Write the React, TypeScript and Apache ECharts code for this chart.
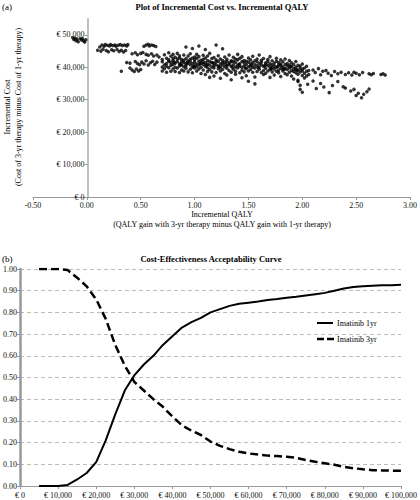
import React, { useEffect, useRef } from "react";
import * as echarts from "echarts";

const FONT = "'Liberation Serif', 'Times New Roman', serif";

// ---------- Panel (a): incremental cost vs incremental QALY ----------
const costTicks = [0, 10000, 20000, 30000, 40000, 50000];

const pointsNegative: [number, number][] = [
  [-0.13, 49100], [-0.12, 48600], [-0.11, 49000], [-0.1, 48200], [-0.09, 48700], [-0.08, 47900],
  [-0.06, 48900], [-0.05, 48400], [-0.04, 48800], [-0.03, 48100], [-0.02, 47800], [-0.01, 48500],
];

const pointsEarly: [number, number][] = [
  [0.12, 46300], [0.14, 46900], [0.16, 46500], [0.17, 47000], [0.19, 46800], [0.21, 46600], [0.22, 47000],
  [0.24, 46700], [0.26, 46900], [0.27, 46500], [0.29, 46800], [0.31, 47000], [0.33, 46700], [0.35, 46900],
  [0.37, 46600], [0.38, 47000],
  [0.1, 45300], [0.13, 45000], [0.15, 45600], [0.18, 45200], [0.2, 44800], [0.23, 45400], [0.25, 45100],
  [0.28, 45500], [0.3, 44900], [0.32, 45300], [0.34, 44700], [0.36, 45200],
  [0.53, 46500], [0.55, 46900], [0.57, 47100], [0.58, 46600], [0.6, 46900], [0.62, 46700], [0.64, 46400],
  [0.42, 44200], [0.45, 44500], [0.47, 43900], [0.5, 44300], [0.52, 44600], [0.55, 44000], [0.57, 43700],
  [0.6, 44200], [0.62, 43500], [0.65, 43800], [0.67, 43200],
  [0.37, 41500], [0.4, 41300], [0.45, 41800], [0.47, 41200], [0.49, 40800], [0.51, 41600], [0.53, 41000],
  [0.55, 42000], [0.57, 40700], [0.59, 41400], [0.61, 41900], [0.63, 40900], [0.65, 41600],
  [0.32, 38800], [0.4, 39800], [0.42, 39200], [0.44, 38700], [0.46, 39500], [0.48, 38900], [0.5, 39300],
];

const pointsBand: [number, number][] = [
  [0.7, 42400], [0.7, 40100], [0.7, 38900], [0.7, 41700], [0.72, 43900], [0.72, 40800], [0.72, 39600],
  [0.74, 41200], [0.74, 42800], [0.74, 38500], [0.74, 40300], [0.76, 44500], [0.76, 41900], [0.76, 39900],
  [0.76, 42300], [0.78, 40600], [0.78, 43400], [0.78, 38800], [0.78, 41500], [0.8, 42100], [0.8, 39500],
  [0.8, 44000], [0.8, 40900], [0.8, 42700], [0.82, 41300], [0.82, 38700], [0.82, 43100], [0.82, 40000],
  [0.84, 42600], [0.84, 39800], [0.84, 41800], [0.84, 44300], [0.86, 40400], [0.86, 42900], [0.86, 38400],
  [0.86, 41100], [0.86, 43600], [0.88, 41700], [0.88, 39200], [0.88, 42400], [0.88, 40700], [0.9, 43800],
  [0.9, 40200], [0.9, 41500], [0.9, 38900], [0.9, 42200], [0.92, 46300], [0.92, 41000], [0.92, 42700],
  [0.92, 39700], [0.92, 40500], [0.94, 42000], [0.94, 43500], [0.94, 38600], [0.94, 41300], [0.96, 40800],
  [0.96, 42500], [0.96, 39400], [0.96, 44200], [0.96, 41800], [0.98, 45800], [0.98, 41200], [0.98, 40000],
  [0.98, 42900], [0.98, 38300], [1.0, 43200], [1.0, 39800], [1.0, 41600], [1.0, 40500], [1.0, 42300],
  [1.02, 41000], [1.02, 38900], [1.02, 42800], [1.02, 44000], [1.02, 40200], [1.04, 46600], [1.04, 41900],
  [1.04, 39500], [1.04, 40700], [1.04, 43300], [1.06, 42200], [1.06, 38100], [1.06, 41300], [1.06, 40000],
  [1.08, 40900], [1.08, 43700], [1.08, 39200], [1.08, 42500], [1.08, 41600], [1.1, 45500], [1.1, 41400],
  [1.1, 37800], [1.1, 40300], [1.1, 42900], [1.12, 39900], [1.12, 42100], [1.12, 41000], [1.12, 43500],
  [1.12, 38700], [1.14, 40700], [1.14, 44300], [1.14, 41800], [1.14, 39300], [1.14, 36900], [1.16, 42700],
  [1.16, 40100], [1.16, 38600], [1.16, 41500], [1.18, 41200], [1.18, 43000], [1.18, 39800], [1.18, 40500],
  [1.18, 37300], [1.2, 46900], [1.2, 42300], [1.2, 40800], [1.2, 38400], [1.2, 41700], [1.22, 39600],
  [1.22, 41900], [1.22, 43600], [1.22, 40400], [1.24, 42600], [1.24, 38900], [1.24, 41100], [1.24, 40000],
  [1.24, 36600], [1.26, 45700], [1.26, 41400], [1.26, 39300], [1.26, 42100], [1.26, 40700], [1.28, 40200],
  [1.28, 43200], [1.28, 38100], [1.28, 41600], [1.3, 41800], [1.3, 39700], [1.3, 42500], [1.3, 40500],
  [1.3, 37600], [1.32, 43800], [1.32, 40900], [1.32, 39000], [1.32, 41300], [1.34, 42000], [1.34, 38500],
  [1.34, 40300], [1.34, 41700], [1.34, 36200], [1.36, 40800], [1.36, 43100], [1.36, 39400], [1.36, 41900],
  [1.38, 41500], [1.38, 38800], [1.38, 42600], [1.38, 40100], [1.38, 37900], [1.4, 39800], [1.4, 42300],
  [1.4, 40600], [1.4, 44000], [1.42, 41100], [1.42, 38300], [1.42, 42800], [1.42, 40300], [1.44, 40000],
  [1.44, 41800], [1.44, 39100], [1.44, 43300], [1.44, 36800], [1.46, 42100], [1.46, 40500], [1.46, 38600],
  [1.46, 41400], [1.48, 39600], [1.48, 41900], [1.48, 40900], [1.48, 37400], [1.5, 42900], [1.5, 40200],
  [1.5, 38900], [1.5, 41600], [1.5, 35700], [1.52, 41000], [1.52, 39300], [1.52, 42300], [1.52, 40400],
  [1.54, 38500], [1.54, 41500], [1.54, 40000], [1.54, 43400], [1.56, 42000], [1.56, 39800], [1.56, 40800],
  [1.56, 37000], [1.56, 34900], [1.58, 40500], [1.58, 41700], [1.58, 38700], [1.58, 42600], [1.6, 39400],
  [1.6, 41200], [1.6, 40100], [1.6, 43800], [1.62, 42200], [1.62, 38400], [1.62, 40700], [1.62, 41600],
  [1.64, 39000], [1.64, 40300], [1.64, 42700], [1.64, 37800], [1.66, 41400], [1.66, 39700], [1.66, 40900],
  [1.66, 38200], [1.68, 40600], [1.68, 42400], [1.68, 38900], [1.68, 41800], [1.7, 39300], [1.7, 41100],
  [1.7, 40200], [1.7, 36900], [1.7, 43300], [1.72, 42000], [1.72, 38600], [1.72, 40800], [1.72, 39900],
  [1.74, 41300], [1.74, 39500], [1.74, 40400], [1.74, 37600], [1.76, 38800], [1.76, 41900], [1.76, 40000],
  [1.76, 42800], [1.78, 40700], [1.78, 39100], [1.78, 41500], [1.78, 38300], [1.8, 42300], [1.8, 39700],
  [1.8, 40600], [1.8, 37200], [1.8, 41000], [1.82, 38900], [1.82, 40200], [1.82, 41700], [1.82, 39400],
  [1.84, 40900], [1.84, 38100], [1.84, 42600], [1.84, 39600], [1.86, 39300], [1.86, 41200], [1.86, 37700],
  [1.86, 40400], [1.88, 40700], [1.88, 38500], [1.88, 39900], [1.88, 42100], [1.9, 41400], [1.9, 39000],
  [1.9, 37300], [1.9, 40300], [1.92, 38700], [1.92, 40900], [1.92, 39600], [1.92, 36400], [1.94, 40100],
  [1.94, 41800], [1.94, 38300], [1.94, 39400], [1.96, 39100], [1.96, 37900], [1.96, 40600], [1.96, 35600],
  [1.98, 40400], [1.98, 38600], [1.98, 39700], [1.98, 33200], [2.0, 38900], [2.0, 41000], [2.0, 37500],
  [2.0, 39500], [2.02, 39800], [2.02, 38200], [2.02, 36700], [2.04, 40300], [2.04, 38800], [2.04, 37300],
  [2.06, 39000], [2.06, 37800],
  [0.81, 41600], [0.87, 40900], [0.93, 41500], [0.99, 40300], [1.05, 41100], [1.11, 40600], [1.17, 41400],
  [1.23, 40200], [1.29, 40900], [1.35, 40000], [1.41, 40900], [1.47, 39800], [1.53, 40700], [1.59, 39900],
  [1.65, 40500], [1.71, 39600], [1.77, 40200], [1.83, 39500], [1.89, 40100], [1.95, 39200],
];

const pointsTail: [number, number][] = [
  [2.1, 39200], [2.12, 38400], [2.15, 39600], [2.17, 37700], [2.19, 38800], [2.22, 39000], [2.24, 38200],
  [2.27, 37500], [2.3, 38700], [2.33, 38000], [2.36, 38500], [2.4, 37800], [2.43, 38300], [2.46, 37600],
  [2.48, 38500], [2.5, 38200], [2.53, 37700], [2.56, 38400], [2.62, 38000], [2.64, 37700], [2.66, 38100],
  [2.73, 37800], [2.75, 38000], [2.77, 37600],
  [1.96, 36000], [1.98, 34500], [2.0, 32300], [2.05, 34800], [2.1, 35800], [2.13, 33500], [2.17, 35000],
  [2.2, 33900], [2.25, 32200], [2.28, 34400], [2.33, 35600], [2.38, 34000], [2.4, 33600], [2.45, 32700],
  [2.48, 33200], [2.5, 31300], [2.52, 32000], [2.55, 30600], [2.57, 31700], [2.6, 32500], [2.62, 33300],
];

// ---------- Panel (b): cost-effectiveness acceptability curve ----------
const wtpThresholds = [
  5000, 7500, 10000, 12500, 15000, 17500, 20000, 22500, 25000, 27500, 30000, 32500, 35000, 37500, 40000,
  42500, 45000, 47500, 50000, 52500, 55000, 57500, 60000, 62500, 65000, 67500, 70000, 72500, 75000, 77500,
  80000, 82500, 85000, 87500, 90000, 92500, 95000, 97500, 100000,
];
const probImatinib1yr = [
  0, 0, 0, 0.005, 0.03, 0.06, 0.11, 0.21, 0.33, 0.44, 0.51, 0.56, 0.6, 0.65, 0.69,
  0.73, 0.755, 0.775, 0.8, 0.815, 0.83, 0.84, 0.845, 0.85, 0.857, 0.862, 0.868, 0.872, 0.878, 0.884,
  0.89, 0.9, 0.91, 0.917, 0.92, 0.923, 0.925, 0.925, 0.927,
];
const probImatinib3yr = [
  1, 1, 1, 0.995, 0.96, 0.92, 0.86, 0.77, 0.65, 0.555, 0.48, 0.44, 0.4, 0.365, 0.32,
  0.28, 0.255, 0.235, 0.205, 0.185, 0.17, 0.158, 0.15, 0.145, 0.14, 0.138, 0.135, 0.13, 0.12, 0.112,
  0.105, 0.098, 0.088, 0.082, 0.077, 0.073, 0.072, 0.071, 0.07,
];
const seriesNames = ["Imatinib 1yr", "Imatinib 3yr"];

const euro = (v: number) => "€ " + Math.round(v).toLocaleString("en-US");

export default function App() {
  const ref = useRef<HTMLDivElement>(null);

  useEffect(() => {
    if (!ref.current) return;
    const chart = echarts.init(ref.current, null, { renderer: "svg" });
    const scatterData = [...pointsNegative, ...pointsEarly, ...pointsBand, ...pointsTail];
    const txt = (extra: any) => ({ fill: "#000", fontFamily: FONT, fontSize: 8, ...extra });

    chart.setOption({
      animation: false,
      backgroundColor: "#fff",
      textStyle: { fontFamily: FONT },
      grid: [
        { left: 33, right: 7, top: 18.7, height: 178.3 },
        { left: 20, right: 17, top: 269, height: 217 },
      ],
      xAxis: [
        {
          type: "value", gridIndex: 0, min: -0.5, max: 3, interval: 0.5,
          axisLine: { onZero: false, lineStyle: { color: "#999", width: 1 } },
          axisTick: { show: true, length: 3, lineStyle: { color: "#999" } },
          axisLabel: { formatter: (v: number) => v.toFixed(2), fontSize: 8, color: "#111", fontFamily: FONT, margin: 4 },
          splitLine: { show: false },
        },
        {
          type: "value", gridIndex: 1, min: 0, max: 100000, interval: 10000,
          axisLine: { lineStyle: { color: "#999", width: 1 } },
          axisTick: { show: true, length: 3, lineStyle: { color: "#999" } },
          axisLabel: { formatter: euro, fontSize: 8, color: "#111", fontFamily: FONT, margin: 5 },
          splitLine: { show: false },
        },
      ],
      yAxis: [
        {
          type: "value", gridIndex: 0, min: 0, max: 55000, interval: 10000,
          offset: -54.6,
          axisLine: { show: true, onZero: false, lineStyle: { color: "#aaa", width: 1.5 } },
          axisTick: { show: true, length: 3, customValues: costTicks, lineStyle: { color: "#999" } },
          axisLabel: { formatter: euro, customValues: costTicks, fontSize: 8, color: "#111", fontFamily: FONT, margin: 3 },
          splitLine: { show: false },
        },
        {
          type: "value", gridIndex: 1, min: 0, max: 1, interval: 0.1,
          axisLine: { show: true, lineStyle: { color: "#999", width: 2.5 } },
          axisTick: { show: true, length: 3, lineStyle: { color: "#999" } },
          axisLabel: { formatter: (v: number) => v.toFixed(2), fontSize: 8, color: "#111", fontFamily: FONT, margin: 3 },
          splitLine: { show: true, lineStyle: { color: "#bbb", type: [4, 3], width: 1 } },
        },
      ],
      series: [
        {
          type: "scatter", name: "Incremental", xAxisIndex: 0, yAxisIndex: 0,
          data: scatterData, symbol: "circle", symbolSize: 3.5,
          itemStyle: { color: "#000" },
        },
        {
          type: "line", name: seriesNames[0], xAxisIndex: 1, yAxisIndex: 1,
          data: wtpThresholds.map((w, i) => [w, probImatinib1yr[i]]),
          symbol: "none", showSymbol: false,
          lineStyle: { color: "#000", width: 2 },
          itemStyle: { color: "#000" },
        },
        {
          type: "line", name: seriesNames[1], xAxisIndex: 1, yAxisIndex: 1,
          data: wtpThresholds.map((w, i) => [w, probImatinib3yr[i]]),
          symbol: "none", showSymbol: false,
          lineStyle: { color: "#000", width: 2.5, type: [8, 4] },
          itemStyle: { color: "#000" },
        },
      ],
      graphic: [
        { type: "text", left: 2, top: 2, style: txt({ text: "(a)", fontSize: 9 }) },
        { type: "text", x: 222, y: 7, style: txt({ text: "Plot of Incremental Cost vs. Incremental QALY", fontWeight: "bold", fontSize: 8.5, align: "center", verticalAlign: "middle" }) },
        { type: "text", x: 7, y: 107, rotation: Math.PI / 2, style: txt({ text: "Incremental Cost", align: "center", verticalAlign: "middle" }) },
        { type: "text", x: 18, y: 107, rotation: Math.PI / 2, style: txt({ text: "(Cost of 3-yr therapy minus Cost of 1-yr therapy)", align: "center", verticalAlign: "middle" }) },
        { type: "text", x: 222, y: 214, style: txt({ text: "Incremental QALY", align: "center", verticalAlign: "middle" }) },
        { type: "text", x: 222, y: 224, style: txt({ text: "(QALY gain with 3-yr therapy minus QALY gain with 1-yr therapy)", align: "center", verticalAlign: "middle" }) },
        { type: "text", left: 2, top: 254, style: txt({ text: "(b)", fontSize: 9 }) },
        { type: "text", x: 211, y: 259, style: txt({ text: "Cost-Effectiveness Acceptability Curve", fontWeight: "bold", fontSize: 8.5, align: "center", verticalAlign: "middle" }) },
        // legend
        { type: "line", shape: { x1: 317, y1: 323, x2: 333, y2: 323 }, style: { stroke: "#000", lineWidth: 2 } },
        { type: "text", x: 337, y: 323, style: txt({ text: seriesNames[0], verticalAlign: "middle" }) },
        { type: "line", shape: { x1: 317, y1: 339, x2: 334, y2: 339 }, style: { stroke: "#000", lineWidth: 2.5, lineDash: [7, 3] } },
        { type: "text", x: 337, y: 339, style: txt({ text: seriesNames[1], verticalAlign: "middle" }) },
      ],
    });

    return () => chart.dispose();
  }, []);

  return <div ref={ref} style={{ position: "absolute", left: 0, top: 0, width: 420, height: 500 }} />;
}
